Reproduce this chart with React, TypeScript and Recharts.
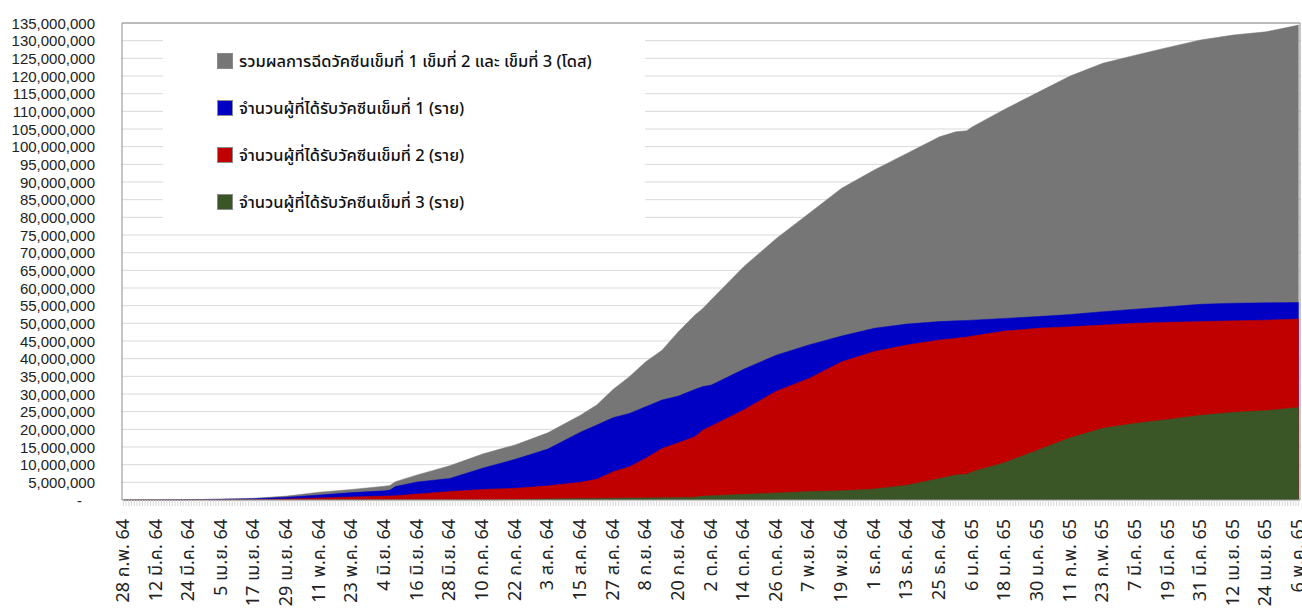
import React from "react";
import { AreaChart, Area, XAxis, YAxis, CartesianGrid, Legend, ReferenceLine } from "recharts";

// day index counted from 28 ก.พ. 64, values in millions
const days = [0, 12, 24, 36, 48, 60, 72, 84, 96, 98, 100, 108, 120, 132, 144, 156, 168, 174, 180, 186, 192, 198, 204, 210, 213, 216, 228, 240, 252, 264, 276, 288, 300, 306, 310, 312, 324, 336, 348, 360, 372, 384, 396, 408, 420, 432];

const totalDoses = [0, 0.03, 0.1, 0.25, 0.5, 1.1, 2.2, 3.0, 3.9, 4.1, 5.2, 7.1, 9.7, 13.0, 15.6, 19.0, 24.0, 26.9, 31.3, 34.9, 39.1, 42.4, 47.6, 52.3, 54.2, 56.6, 66.0, 74.0, 81.1, 88.2, 93.4, 98.1, 102.8, 104.2, 104.5, 105.6, 110.6, 115.3, 120.0, 123.6, 125.9, 128.1, 130.2, 131.6, 132.5, 134.4];

const dose1 = [0, 0.03, 0.1, 0.2, 0.35, 0.8, 1.4, 2.1, 2.6, 2.8, 3.8, 5.1, 6.1, 9.0, 11.5, 14.4, 19.2, 21.2, 23.3, 24.5, 26.4, 28.3, 29.4, 31.3, 32.1, 32.5, 37.0, 41.0, 43.9, 46.4, 48.6, 49.8, 50.5, 50.7, 50.8, 50.9, 51.4, 51.9, 52.5, 53.3, 54.0, 54.7, 55.4, 55.7, 55.8, 55.9];

const dose2 = [0, 0, 0, 0.02, 0.1, 0.3, 0.6, 0.85, 1.1, 1.15, 1.2, 1.7, 2.4, 3.0, 3.3, 4.0, 5.0, 5.9, 8.0, 9.4, 11.8, 14.6, 16.2, 17.9, 19.8, 20.9, 25.5, 30.8, 34.4, 39.1, 42.0, 43.9, 45.3, 45.8, 46.1, 46.4, 47.8, 48.6, 49.0, 49.5, 50.0, 50.3, 50.5, 50.7, 50.9, 51.2];

const dose3 = [0, 0, 0, 0, 0, 0, 0, 0, 0, 0, 0, 0, 0, 0, 0.1, 0.3, 0.4, 0.45, 0.5, 0.55, 0.6, 0.65, 0.7, 0.8, 1.1, 1.2, 1.6, 2.0, 2.4, 2.6, 3.1, 4.2, 6.1, 7.1, 7.3, 8.0, 10.6, 14.1, 17.6, 20.3, 21.7, 22.8, 24.0, 24.8, 25.3, 26.2];

const xLabels = [
  "28 ก.พ. 64", "12 มี.ค. 64", "24 มี.ค. 64", "5 เม.ย. 64", "17 เม.ย. 64", "29 เม.ย. 64",
  "11 พ.ค. 64", "23 พ.ค. 64", "4 มิ.ย. 64", "16 มิ.ย. 64", "28 มิ.ย. 64", "10 ก.ค. 64",
  "22 ก.ค. 64", "3 ส.ค. 64", "15 ส.ค. 64", "27 ส.ค. 64", "8 ก.ย. 64", "20 ก.ย. 64",
  "2 ต.ค. 64", "14 ต.ค. 64", "26 ต.ค. 64", "7 พ.ย. 64", "19 พ.ย. 64", "1 ธ.ค. 64",
  "13 ธ.ค. 64", "25 ธ.ค. 64", "6 ม.ค. 65", "18 ม.ค. 65", "30 ม.ค. 65", "11 ก.พ. 65",
  "23 ก.พ. 65", "7 มี.ค. 65", "19 มี.ค. 65", "31 มี.ค. 65", "12 เม.ย. 65", "24 เม.ย. 65",
  "6 พ.ค. 65",
];

const seriesNames = [
  "รวมผลการฉีดวัคซีนเข็มที่ 1 เข็มที่ 2 และ เข็มที่ 3 (โดส)",
  "จำนวนผู้ที่ได้รับวัคซีนเข็มที่ 1 (ราย)",
  "จำนวนผู้ที่ได้รับวัคซีนเข็มที่ 2 (ราย)",
  "จำนวนผู้ที่ได้รับวัคซีนเข็มที่ 3 (ราย)",
];
const seriesKeys = ["total", "dose1", "dose2", "dose3"];
const seriesColors = ["#767676", "#0000C4", "#C00000", "#3A5626"];

const data = days.map((day, i) => ({
  day,
  total: totalDoses[i],
  dose1: dose1[i],
  dose2: dose2[i],
  dose3: dose3[i],
}));

const LABEL_STEP = 12;
const yTicks = Array.from({ length: 28 }, (_, i) => i * 5);
const dayTicks = Array.from({ length: 433 }, (_, i) => i);

const THAI_FONT = "'Noto Sans Thai', 'Noto Sans', sans-serif";
const NUM_FONT = "'Liberation Sans', Arial, sans-serif";

const YTick = ({ x, y, payload }: any) => {
  const v = payload.value;
  if (v === 0) {
    return (
      <text x={x - 13} y={y} textAnchor="end" dominantBaseline="central" fontSize={15} fill="#222" fontFamily={NUM_FONT}>
        -
      </text>
    );
  }
  return (
    <text x={x} y={y} textAnchor="end" dominantBaseline="central" fontSize={15} fill="#222" fontFamily={NUM_FONT}>
      {(v * 1000000).toLocaleString("en-US")}
    </text>
  );
};

const XTick = ({ x, y, payload }: any) => {
  const v = payload.value;
  if (v % LABEL_STEP !== 0) return <g />;
  return (
    <text
      transform={`translate(${x},${y}) rotate(-90)`}
      textAnchor="end"
      dominantBaseline="central"
      fontSize={18}
      fill="#222"
      fontFamily={THAI_FONT}
    >
      {xLabels[v / LABEL_STEP]}
    </text>
  );
};

const renderLegend = () => (
  <div style={{ position: "relative", width: "100%", height: "100%", background: "#fff", fontFamily: THAI_FONT }}>
    {seriesNames.map((name, i) => (
      <div
        key={name}
        style={{ position: "absolute", left: 54, top: 37 + i * 47 - 12, height: 24, display: "flex", alignItems: "center", whiteSpace: "nowrap" }}
      >
        <span style={{ display: "inline-block", width: 14, height: 14, background: seriesColors[i], border: "1px solid #8a8a8a", marginRight: 6 }} />
        <span style={{ fontSize: 16.5, fontWeight: 500, color: "#111" }}>{name}</span>
      </div>
    ))}
  </div>
);

export default function App() {
  return (
    <div style={{ position: "absolute", left: 0, top: 0, background: "#fff" }}>
      <AreaChart width={1302} height={613} data={data} margin={{ top: 23, right: 2, bottom: 0, left: 0 }}>
        <CartesianGrid vertical={false} stroke="#d9d9d9" />
        <XAxis
          dataKey="day"
          type="number"
          domain={[-0.5, 432.5]}
          ticks={dayTicks}
          interval={0}
          height={113}
          tick={<XTick />}
          tickSize={6}
          tickMargin={13}
          tickLine={{ stroke: "#d6d6d6" }}
          axisLine={{ stroke: "#9a9a9a" }}
        />
        <YAxis
          type="number"
          domain={[0, 135]}
          ticks={yTicks}
          interval={0}
          width={122}
          tick={<YTick />}
          tickLine={false}
          tickMargin={21}
          axisLine={{ stroke: "#8c8c8c" }}
        />
        <ReferenceLine y={135} stroke="#8c8c8c" />
        <ReferenceLine x={432.5} stroke="#8c8c8c" />
        {seriesKeys.map((k, i) => (
          <Area
            key={k}
            type="linear"
            dataKey={k}
            name={seriesNames[i]}
            stroke={seriesColors[i]}
            strokeWidth={0.5}
            fill={seriesColors[i]}
            fillOpacity={1}
            isAnimationActive={false}
            dot={false}
            activeDot={false}
          />
        ))}
        <Legend
          layout="vertical"
          verticalAlign="middle"
          align="center"
          content={renderLegend}
          wrapperStyle={{ left: 163, top: 24, width: 482, height: 202 }}
        />
      </AreaChart>
    </div>
  );
}
